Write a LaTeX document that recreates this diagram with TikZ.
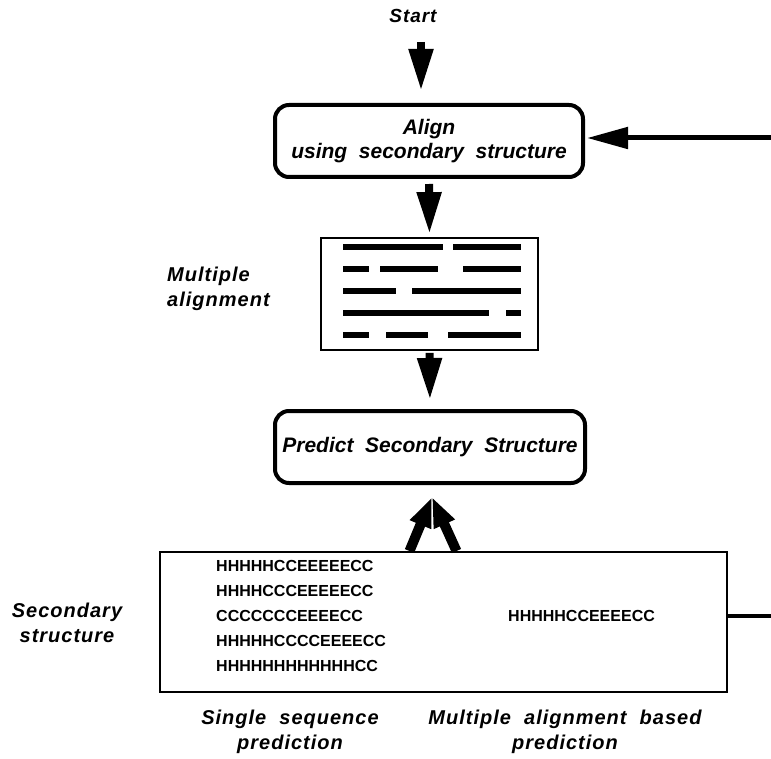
\documentclass[tikz,border=0pt]{standalone}
\usepackage{fontspec}
\setmainfont{Liberation Sans}
\newfontfamily\spacedfont{Liberation Sans}[LetterSpace=5]
\usetikzlibrary{arrows.meta,calc}

\tikzset{
  lbl/.style={inner sep=0pt, font=\spacedfont\bfseries\itshape\fontsize{20}{25}\selectfont, align=center},
  roundbox/.style={draw, line width=4pt, rounded corners=14pt, inner sep=0pt,
    font=\bfseries\itshape\fontsize{21}{23.5}\selectfont, align=center},
  plainbox/.style={draw, line width=1.8pt, inner sep=0pt},
  seq/.style={anchor=west, inner sep=0pt, font=\bfseries\fontsize{16}{18}\selectfont},
  bar/.style={line width=6pt},
  flow/.style={line width=8pt, -{Triangle[length=42pt,width=23pt]}},
  back/.style={line width=5pt, -{Triangle[length=41pt,width=21pt]}},
  uparrow/.style={line width=10pt, -{Triangle[length=30pt,width=21pt]}}
}

\begin{document}
\begin{tikzpicture}[x=1pt,y=-1pt]
\useasboundingbox (0,0) rectangle (771,759);

% boxes of the cycle
\node[lbl, font=\spacedfont\bfseries\itshape\fontsize{19}{21}\selectfont] (start) at (413,16) {Start};
\node[roundbox, minimum width=308pt, minimum height=72pt] (align) at (429,141)
  {Align\\using~ secondary~ structure};
\node[plainbox, minimum width=217pt, minimum height=112pt] (msa) at (429.5,294) {};
\node[roundbox, minimum width=310pt, minimum height=72pt] (pred) at (430,447)
  {Predict~ Secondary~ Structure};
\node[plainbox, line width=2pt, minimum width=567pt, minimum height=140pt] (ss) at (443.5,622) {};

% alignment rows drawn as bars
\begin{scope}[shift={(msa.north west)}]
  \draw[bar] (23,10) -- (123,10)  (133,10) -- (201,10);
  \draw[bar] (23,32) -- (49,32)  (60,32) -- (118,32)  (143,32) -- (201,32);
  \draw[bar] (23,54) -- (76,54)  (92,54) -- (201,54);
  \draw[bar] (23,76) -- (169,76)  (186,76) -- (201,76);
  \draw[bar] (23,98) -- (49,98)  (66,98) -- (108,98)  (128,98) -- (201,98);
\end{scope}

% predicted strings
\node[seq] (s1) at (216,566) {HHHHHCCEEEEECC};
\node[seq] (s2) at (216,591) {HHHHCCCEEEEECC};
\node[seq] (s3) at (216,616) {CCCCCCCEEEECC};
\node[seq] (s4) at (216,641) {HHHHHCCCCEEEECC};
\node[seq] (s5) at (216,666) {HHHHHHHHHHHHCC};
\node[seq] (sm) at (508,616) {HHHHHCCEEEECC};

% side and bottom labels
\node[lbl, anchor=west, align=left] (msalbl) at (167,289)
  {Multiple\\alignment};
\node[lbl] (sslbl) at (67,623) {Secondary\\structure};
\node[lbl] (single) at (290,732) {Single~ sequence\\prediction};
\node[lbl] (multi) at (565,732) {Multiple~ alignment~ based\\prediction};

% connectors
\draw[flow, shorten <=19pt, shorten >=12pt] (start.south -| align.north) ++(-8,0) coordinate (st0) (st0) -- (st0 |- align.north);
\draw[flow, shorten <=5pt, shorten >=3pt] (align.south) -- (msa.north);
\draw[flow, shorten <=2pt, shorten >=9pt] (msa.south) -- (pred.north);
\draw[uparrow] ($(ss.north)+(-34,0)$) -- ($(pred.south)+(2,12)$);
\draw[uparrow] ($(ss.north)+(13,0)$) -- ($(pred.south)+(2,12)$);

\coordinate (fb) at (771,138);
\draw[back, shorten >=2pt] (fb) -- (fb -| align.east);
\coordinate (stub) at (771,616);
\draw[line width=4.5pt] (stub -| ss.east) -- (stub);
\end{tikzpicture}
\end{document}
